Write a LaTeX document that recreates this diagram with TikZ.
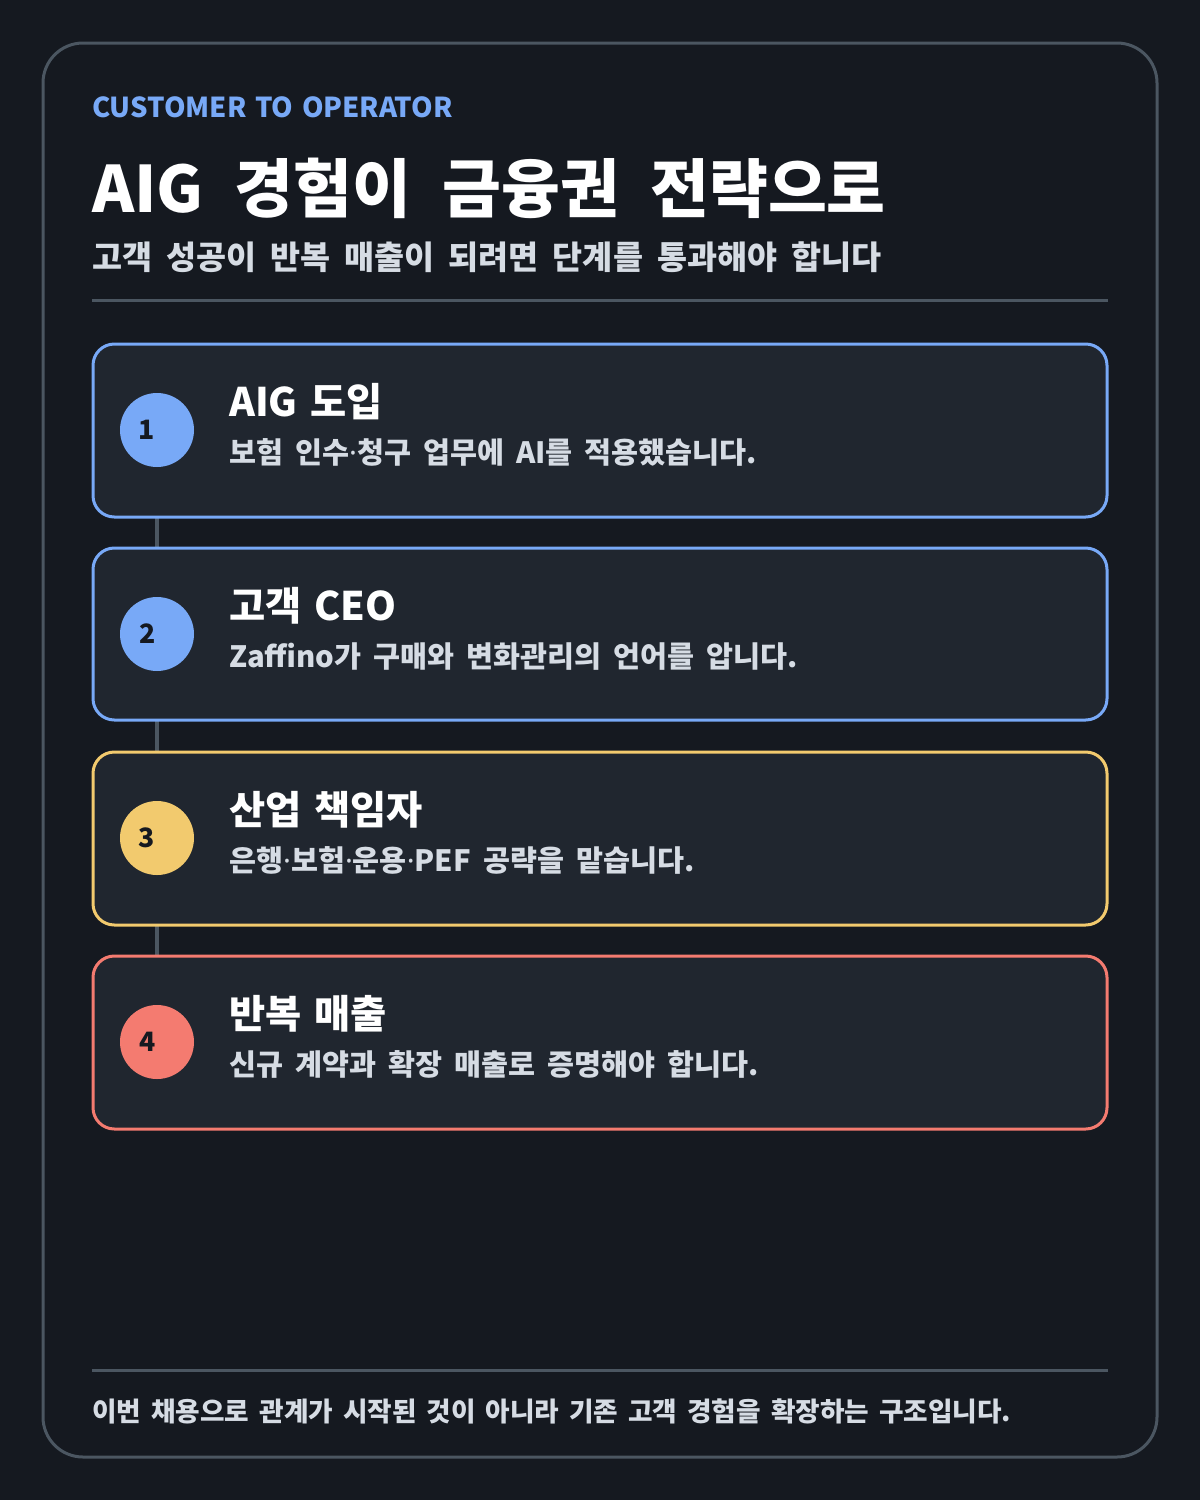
\documentclass[tikz,border=0pt]{standalone}
\usepackage{fontspec}
\setmainfont{Noto Sans CJK KR}
\newfontfamily\latinf{Noto Sans}
\newcommand{\mdot}{{\latinf\bfseries ·}}
\newcommand{\wsp}[1]{\spaceskip #1\relax}
\definecolor{bgc}{HTML}{151920}
\definecolor{framec}{HTML}{4B5661}
\definecolor{boxc}{HTML}{20262F}
\definecolor{bluec}{HTML}{78A9F7}
\definecolor{yellowc}{HTML}{F2CA6E}
\definecolor{redc}{HTML}{F47B70}
\definecolor{lightc}{HTML}{D6DCE4}
\tikzset{
  stepbox/.style={draw=#1, line width=2.25pt, fill=boxc, rounded corners=16pt},
  numdot/.style={circle, fill=#1, minimum size=55.5pt, inner sep=0pt},
  numtxt/.style={inner sep=0pt, text=bgc, font=\fontsize{20}{20}\selectfont\bfseries},
  steptitle/.style={anchor=base west, inner sep=0pt, text=white, font=\fontsize{29.5}{29.5}\selectfont\bfseries\wsp{9.75pt}},
  stepdesc/.style={anchor=base west, inner sep=0pt, text=lightc, font=\fontsize{22}{22}\selectfont\bfseries\wsp{9pt}},
  link/.style={draw=framec, line width=3pt},
}
\begin{document}
\begin{tikzpicture}[x=0.75pt,y=-0.75pt]
\fill[bgc] (0,0) rectangle (1200,1500);
\useasboundingbox (0,0) rectangle (1200,1500);
\draw[framec, line width=2.25pt, rounded corners=30pt] (43,43) rectangle (1157,1457);
\node[anchor=base west, inner sep=0pt, text=bluec, font=\fontsize{20.6}{20.6}\selectfont\bfseries\wsp{6.5pt}] (kicker) at (92,117) {CUSTOMER TO OPERATOR};
\node[anchor=base west, inner sep=0pt, text=white, font=\fontsize{48}{48}\selectfont\bfseries\wsp{23.3pt}] (title) at (92,212) {AIG 경험이 금융권 전략으로};
\node[anchor=base west, inner sep=0pt, text=lightc, font=\fontsize{24.5}{24.5}\selectfont\bfseries\wsp{10.5pt}] (subtitle) at (92,269) {고객 성공이 반복 매출이 되려면 단계를 통과해야 합니다};
\draw[framec, line width=2.25pt] (92,300) -- (1108,300);
% boxes
\coordinate (b1a) at (93,344); \coordinate (b1b) at (1107,517);
\coordinate (b2a) at (93,548); \coordinate (b2b) at (1107,720);
\coordinate (b3a) at (93,752); \coordinate (b3b) at (1107,925);
\coordinate (b4a) at (93,956); \coordinate (b4b) at (1107,1129);
\coordinate (l1a) at (157,517); \coordinate (l1b) at (157,548);
\coordinate (l2a) at (157,720); \coordinate (l2b) at (157,752);
\coordinate (l3a) at (157,925); \coordinate (l3b) at (157,956);
\draw[link] (l1a) -- (l1b);
\draw[link] (l2a) -- (l2b);
\draw[link] (l3a) -- (l3b);
\draw[stepbox=bluec] (b1a) rectangle (b1b);
\draw[stepbox=bluec] (b2a) rectangle (b2b);
\draw[stepbox=yellowc] (b3a) rectangle (b3b);
\draw[stepbox=redc] (b4a) rectangle (b4b);
\node[numdot=bluec] (n1) at (157,430) {};
\node[numdot=bluec] (n2) at (157,634) {};
\node[numdot=yellowc] (n3) at (157,838) {};
\node[numdot=redc] (n4) at (157,1042) {};
\node[numtxt] (k1) at ([xshift=-7.5pt]n1.center) {1};
\node[numtxt] (k2) at ([xshift=-7pt]n2.center) {2};
\node[numtxt] (k3) at ([xshift=-7.5pt]n3.center) {3};
\node[numtxt] (k4) at ([xshift=-7pt]n4.center) {4};
\node[steptitle] (t1) at (229,416) {AIG 도입};
\node[stepdesc] (d1) at (229,463) {보험 인수\mdot 청구 업무에 AI를 적용했습니다.};
\node[steptitle] (t2) at (229,620) {고객 CEO};
\node[stepdesc] (d2) at (229,667) {Zaffino가 구매와 변화관리의 언어를 압니다.};
\node[steptitle] (t3) at (229,824) {산업 책임자};
\node[stepdesc] (d3) at (229,871) {은행\mdot 보험\mdot 운용\mdot PEF 공략을 맡습니다.};
\node[steptitle] (t4) at (229,1028) {반복 매출};
\node[stepdesc] (d4) at (229,1075) {신규 계약과 확장 매출로 증명해야 합니다.};
\draw[framec, line width=2.25pt] (92,1370) -- (1108,1370);
\node[anchor=base west, inner sep=0pt, text=lightc, font=\fontsize{20}{20}\selectfont\bfseries\wsp{7.5pt}] (foot) at (92,1421) {이번 채용으로 관계가 시작된 것이 아니라 기존 고객 경험을 확장하는 구조입니다.};
\end{tikzpicture}
\end{document}
